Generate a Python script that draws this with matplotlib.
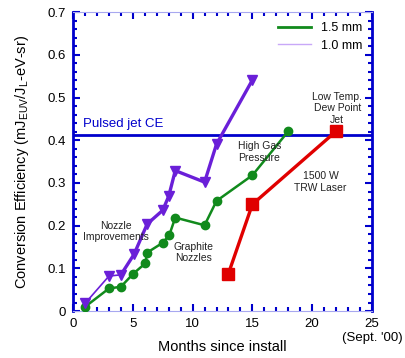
#!/usr/bin/env python3
# -*- coding: utf-8 -*-

import matplotlib
matplotlib.use("Agg")
import matplotlib.pyplot as plt
from matplotlib.ticker import MultipleLocator

plt.rcParams["font.family"] = ["Liberation Sans", "DejaVu Sans"]
plt.rcParams["mathtext.fontset"] = "custom"
plt.rcParams["mathtext.rm"] = "Liberation Sans"
plt.rcParams["mathtext.it"] = "Liberation Sans"

# 1.0 mm nozzle (purple, triangles)
months_10 = [1, 3, 4, 5.1, 6.2, 7.5, 8.0, 8.55, 11, 12, 15]
ce_10 = [0.018, 0.082, 0.085, 0.133, 0.204, 0.236, 0.269, 0.329, 0.302, 0.391, 0.541]

# 1.5 mm nozzle (green, circles)
months_15 = [1, 3, 4, 5.05, 6.05, 6.2, 7.5, 8.05, 8.55, 11, 12, 15, 18]
ce_15 = [0.010, 0.053, 0.057, 0.088, 0.112, 0.137, 0.160, 0.178, 0.219, 0.201, 0.258, 0.318, 0.421]

# 1500 W TRW laser (red, squares)
months_trw = [13, 15, 22]
ce_trw = [0.088, 0.250, 0.421]

pulsed_jet_ce = 0.413

x_ticks = [0, 5, 10, 15, 20, 25]
x_labels = ["0", "5", "10", "15", "20", "25\n(Sept. '00)"]
y_ticks = [0, 0.1, 0.2, 0.3, 0.4, 0.5, 0.6, 0.7]
y_labels = ["0", "0.1", "0.2", "0.3", "0.4", "0.5", "0.6", "0.7"]

BLUE = "#0000cc"
LAV = "#a8a8f0"
PURPLE = "#6a1fd8"
GREEN = "#118a1c"
RED = "#e00000"

fig = plt.figure(figsize=(4.06, 3.58), dpi=100)
ax = fig.add_axes([0.18, 0.131, 0.736, 0.835])

ax.axhline(pulsed_jet_ce, color=BLUE, lw=2, zorder=1)
ax.text(0.8, 0.423, "Pulsed jet CE", color=BLUE, fontsize=9.5, va="bottom")

# data series (early purple segments are drawn thinner, as in the original)
ax.plot(months_10[:3], ce_10[:3], color=PURPLE, lw=1.2, zorder=3)
ax.plot(months_10[2:], ce_10[2:], color=PURPLE, lw=2.4, zorder=3)
ax.plot(months_10, ce_10, ls="none", color=PURPLE, marker="v", ms=7, zorder=4)
ax.plot(months_15, ce_15, color=GREEN, lw=1.8, marker="o", ms=6, zorder=3)
ax.plot(months_trw, ce_trw, color=RED, lw=2.4, marker="s", ms=8, zorder=3)

# legend made of plain lines (no markers)
ax.plot([], [], color=GREEN, lw=2, label="1.5 mm")
ax.plot([], [], color="#c8a8f8", lw=1, label="1.0 mm")
ax.legend(loc="upper right", frameon=False, fontsize=9,
          handlelength=2.6, borderaxespad=0.4, labelspacing=0.45)

# annotations
note = dict(fontsize=7.5, ha="center", va="center", color="#222222", linespacing=1.2)
ax.text(3.6, 0.186, "Nozzle\nImprovements", **note)
ax.text(10.1, 0.137, "Graphite\nNozzles", **note)
ax.text(15.6, 0.372, "High Gas\nPressure", **note)
ax.text(22.1, 0.475, "Low Temp.\nDew Point\nJet", **note)
ax.text(20.7, 0.302, "1500 W\nTRW Laser", **note)

ax.set_xlim(0, 25)
ax.set_ylim(0, 0.7)
ax.set_xticks(x_ticks)
ax.set_xticklabels(x_labels, fontsize=9.5)
ax.set_yticks(y_ticks)
ax.set_yticklabels(y_labels, fontsize=9.5)
ax.xaxis.set_minor_locator(MultipleLocator(1))
ax.yaxis.set_minor_locator(MultipleLocator(0.02))
ax.tick_params(which="both", direction="in", top=True, right=True, color=BLUE, width=1.5)
ax.tick_params(which="major", length=5, pad=5)
ax.tick_params(which="minor", length=3)

ax.spines["left"].set_color(BLUE)
ax.spines["right"].set_color(BLUE)
ax.spines["left"].set_linewidth(2)
ax.spines["right"].set_linewidth(2)
ax.spines["top"].set_color(LAV)
ax.spines["bottom"].set_color(LAV)

ax.set_xlabel("Months since install", fontsize=10.5)
ax.xaxis.set_label_coords(0.5, -0.095)
ax.set_ylabel("Conversion Efficiency (mJ$_{\\mathrm{EUV}}$/J$_{\\mathrm{L}}$-eV-sr)", fontsize=10.5)
ax.yaxis.set_label_coords(-0.14, 0.5)

plt.savefig("out.png", dpi=100)
